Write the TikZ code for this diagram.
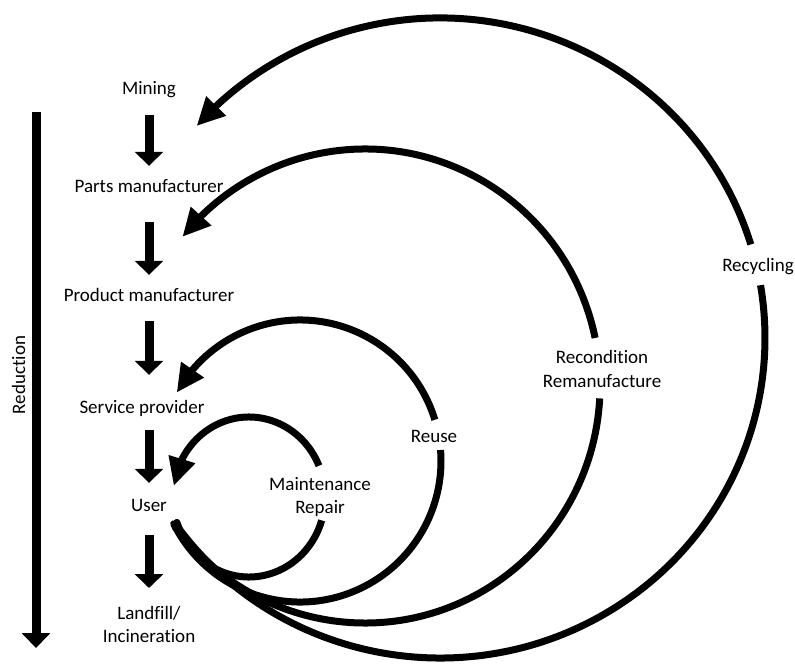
\documentclass[tikz,border=0pt]{standalone}
\usepackage{fontspec}
\setmainfont{Carlito}[Ligatures=NoCommon]
\usetikzlibrary{arrows.meta, bending, calc}

\begin{document}
\begin{tikzpicture}[
  x=1pt, y=1pt,
  every node/.style={font=\fontsize{19}{23.5}\selectfont, inner sep=0pt, align=center},
  stage/.style={anchor=base, text height=13pt, text depth=4pt},
  flow/.style={line width=9pt, -{Triangle[width=28pt, length=14pt]}},
  loopline/.style={line width=7pt, {Round Cap[]}-},
  loopback/.style={line width=7pt, -{Triangle[width=26pt, length=28pt, flex=1]}}
]
\useasboundingbox (0,0) rectangle (795,665);

% stages of the chain
\node[stage] (mining) at (149,570) {Mining};
\node[stage] (parts) at (149,472) {Parts manufacturer};
\node[stage] (product) at (149,363) {Product manufacturer};
\node[stage] (service) at (142,252) {Service provider};
\node[stage] (user) at (149,154) {User};
\node[anchor=north] (landfill) at (149,59) {Landfill/\\Incineration};

\draw[flow, shorten <=16pt, shorten >=14pt] (mining.south) -- (parts.north);
\draw[flow, shorten <=25pt, shorten >=14pt] (parts.south) -- (product.north);
\draw[flow, shorten <=15pt, shorten >=25pt] (product.south) -- (product.south |- service.north);
\draw[flow, shorten <=13pt, shorten >=15pt] (service.south -| user) -- (user.north);
\draw[flow, shorten <=20pt, shorten >=18pt] (user.south) -- (landfill.north);

% reduction
\coordinate (redtop) at (36,553);
\coordinate (redbot) at (36,17);
\draw[flow, -{Triangle[width=28pt, length=15pt]}] (redtop) -- (redbot);
\node[rotate=90, anchor=base] (reduction) at (25,290) {Reduction};

% loops back from the user
\coordinate (cmaint) at (249,168);
\coordinate (creuse) at (300,204);
\coordinate (crecon) at (365,279);
\coordinate (crecyc) at (440,327);

\draw[loopline] (cmaint) ++(196:76 and 80) arc[start angle=196, end angle=343, x radius=76, y radius=80];
\draw[loopback] (cmaint) ++(23:76 and 80) arc[start angle=23, end angle=172, x radius=76, y radius=80];

\draw[loopline] (creuse) ++(205:141 and 141) arc[start angle=205, end angle=364.5, radius=141];
\draw[loopback] (creuse) ++(17:141 and 141) arc[start angle=17, end angle=151, radius=141];

\draw[loopline] (crecon) ++(215:235 and 237) arc[start angle=215, end angle=357, x radius=235, y radius=237];
\draw[loopback] (crecon) ++(11.7:235 and 237) arc[start angle=11.7, end angle=141, x radius=235, y radius=237];

\draw[loopline] (crecyc) ++(215:325 and 320) arc[start angle=215, end angle=369.5, x radius=325, y radius=320];
\draw[loopback] (crecyc) ++(17:325 and 320) arc[start angle=17, end angle=138.5, x radius=325, y radius=320];

\node (maint) at (320,168) {Maintenance\\Repair};
\node[anchor=base] (reuse) at (434,223) {Reuse};
\node (recon) at (602,296) {Recondition\\Remanufacture};
\node[anchor=base] (recyc) at (758,393) {Recycling};

\end{tikzpicture}
\end{document}
